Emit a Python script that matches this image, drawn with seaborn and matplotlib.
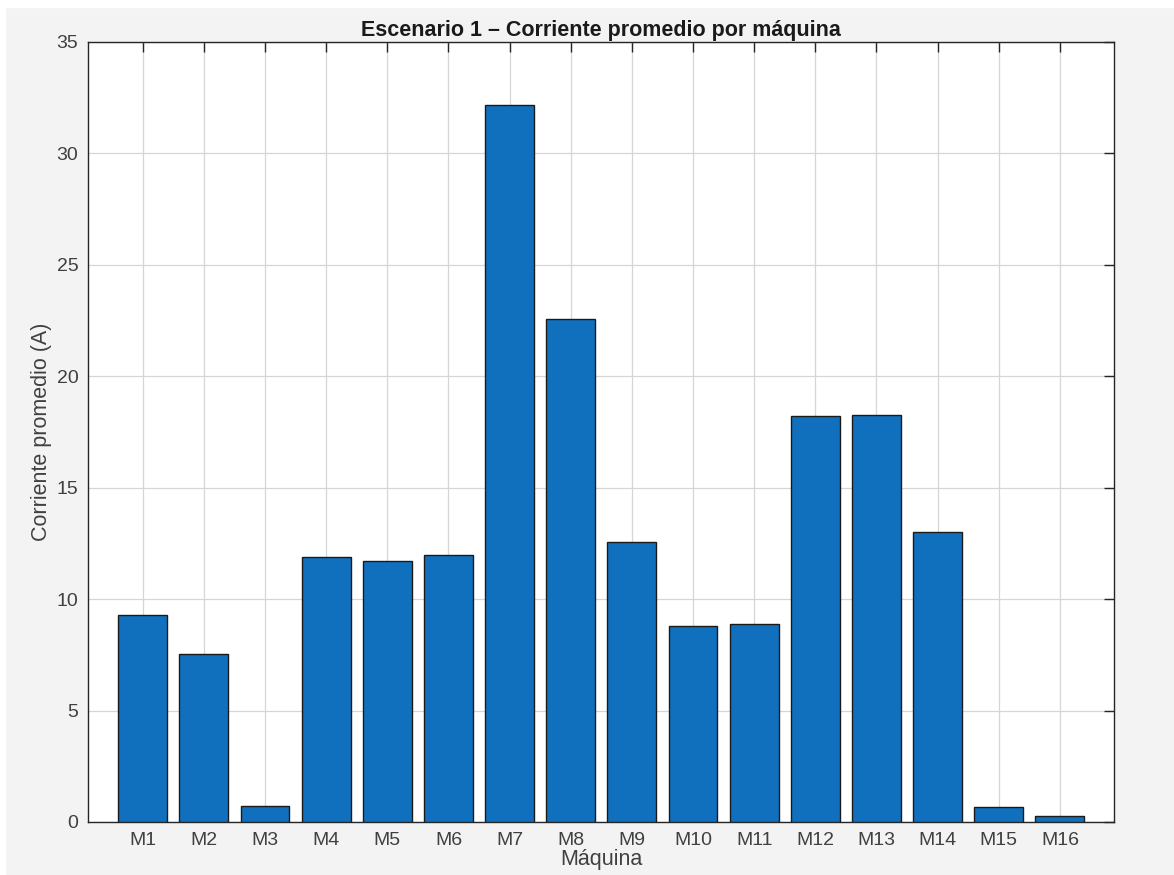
import numpy as np
import pandas as pd
import matplotlib
matplotlib.use('Agg')
import matplotlib.pyplot as plt
from matplotlib.patches import Rectangle
import seaborn as sns

# datos
maquinas = ['M1', 'M2', 'M3', 'M4', 'M5', 'M6', 'M7', 'M8',
            'M9', 'M10', 'M11', 'M12', 'M13', 'M14', 'M15', 'M16']
corriente = [9.30, 7.55, 0.72, 11.90, 11.72, 11.98, 32.17, 22.58,
             12.57, 8.80, 8.87, 18.22, 18.27, 13.00, 0.66, 0.29]

df = pd.DataFrame({'Maquina': maquinas, 'Corriente': corriente})

sns.set_style('white')
plt.rcParams['font.family'] = ['Liberation Sans', 'DejaVu Sans']

fig = plt.figure(figsize=(11.74, 8.75), dpi=100, facecolor='#f3f3f3')
# borde blanco de la captura (arriba e izquierda)
fig.add_artist(Rectangle((0, 1 - 7 / 875), 1, 7 / 875, transform=fig.transFigure,
                         color='white', zorder=0))
fig.add_artist(Rectangle((0, 0), 5 / 1174, 1, transform=fig.transFigure,
                         color='white', zorder=0))

ax = fig.add_axes([88 / 1174, 1 - 822 / 875, (1114 - 88) / 1174, (822 - 42) / 875])
ax.set_facecolor('white')

sns.barplot(data=df, x='Maquina', y='Corriente', color='#1170bd', saturation=1,
            width=0.8, edgecolor='#1a1a1a', linewidth=1.0, ax=ax, zorder=3)

ax.set_xlim(-0.895, 15.885)
ax.set_ylim(0, 35)
ax.set_yticks(np.arange(0, 36, 5))
ax.grid(True, color='#d6d6d6', linewidth=0.9, zorder=0)
ax.set_axisbelow(True)

for s in ax.spines.values():
    s.set_color('#262626')
    s.set_linewidth(1.0)

ax.tick_params(direction='in', length=7, width=1.0, color='#262626',
               top=True, right=True, labelsize=14, labelcolor='#404040', pad=7)

ax.set_title('Escenario 1 – Corriente promedio por máquina', fontsize=15.5,
             fontweight='bold', color='#1a1a1a', pad=4)
ax.set_xlabel('Máquina', fontsize=15.5, color='#404040', labelpad=0)
ax.set_ylabel('Corriente promedio (A)', fontsize=15.5, color='#404040', labelpad=3)

fig.savefig('out.png', dpi=100, facecolor=fig.get_facecolor())
